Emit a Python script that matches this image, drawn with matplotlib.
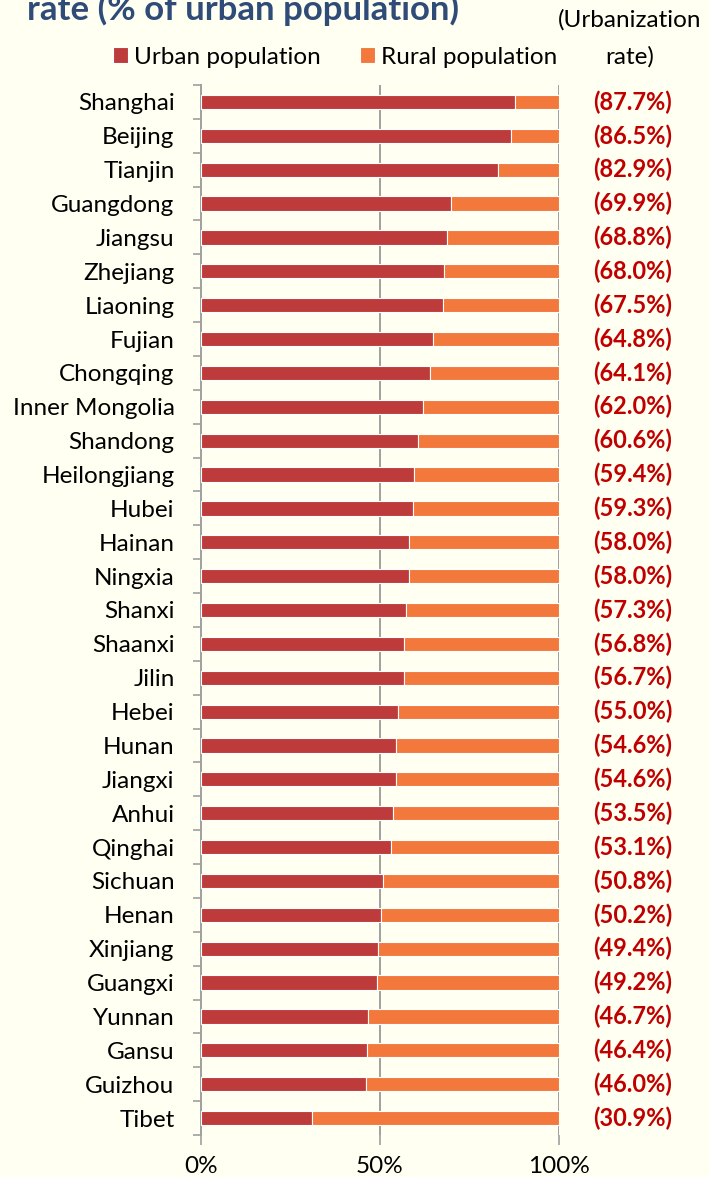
import matplotlib.pyplot as plt
import numpy as np

# provinces, top to bottom
provinces = ["Shanghai", "Beijing", "Tianjin", "Guangdong", "Jiangsu", "Zhejiang",
             "Liaoning", "Fujian", "Chongqing", "Inner Mongolia", "Shandong",
             "Heilongjiang", "Hubei", "Hainan", "Ningxia", "Shanxi", "Shaanxi",
             "Jilin", "Hebei", "Hunan", "Jiangxi", "Anhui", "Qinghai", "Sichuan",
             "Henan", "Xinjiang", "Guangxi", "Yunnan", "Gansu", "Guizhou", "Tibet"]

# urbanization rate, % of population
urban = [87.7, 86.5, 82.9, 69.9, 68.8, 68.0, 67.5, 64.8, 64.1, 62.0, 60.6,
         59.4, 59.3, 58.0, 58.0, 57.3, 56.8, 56.7, 55.0, 54.6, 54.6, 53.5,
         53.1, 50.8, 50.2, 49.4, 49.2, 46.7, 46.4, 46.0, 30.9]
rural = [100 - u for u in urban]

x_ticks = [0, 50, 100]
x_tick_labels = ["0%", "50%", "100%"]

bg = "#FFFFF2"
red = "#BE3B3B"
orange = "#F3783C"
label_red = "#C00000"
fs = 17.5

plt.rcParams['font.family'] = ['Lato', 'DejaVu Sans']

fig = plt.figure(figsize=(7.10, 11.77), dpi=100, facecolor=bg)
ax = fig.add_axes([201 / 710, 1 - 1135 / 1177, 358 / 710, 1050 / 1177])
ax.set_facecolor(bg)

y = np.arange(len(provinces))
ax.barh(y, urban, height=0.42, color=red, edgecolor="white", linewidth=0.8,
        label="Urban population", zorder=3)
ax.barh(y, rural, left=urban, height=0.42, color=orange, edgecolor="white",
        linewidth=0.8, label="Rural population", zorder=3)

ax.set_ylim(len(provinces) - 0.5, -0.5)
ax.set_xlim(0, 100)

# category labels (no ticks at the label), ticks at category boundaries
ax.set_yticks(y)
ax.set_yticklabels(provinces, fontsize=fs)
ax.tick_params(axis="y", length=0, pad=19)
ax.set_yticks(np.arange(len(provinces) + 1) - 0.5, minor=True)
ax.tick_params(axis="y", which="minor", length=6, color="#A0A0A0", width=1.2)

ax.set_xticks(x_ticks)
ax.set_xticklabels(x_tick_labels, fontsize=fs)
ax.tick_params(axis="x", length=7, color="#A0A0A0", width=1.2, pad=8)
ax.grid(axis="x", color="#A0A0A0", linewidth=1.4, zorder=1)

for s in ["top", "right", "bottom"]:
    ax.spines[s].set_visible(False)
ax.spines["left"].set_color("#A0A0A0")
ax.spines["left"].set_linewidth(1.4)

# urbanization rate labels on the right
for yi, u in zip(y, urban):
    ax.text(120.5, yi, "(%.1f%%)" % u, ha="center", va="center", fontsize=17,
            fontweight="bold", color=label_red)

# header for right column
fig.text(630 / 710, 1 - 20 / 1177, "(Urbanization", ha="center", va="center", fontsize=fs)
fig.text(630 / 710, 1 - 57 / 1177, "rate)", ha="center", va="center", fontsize=fs)

# title, cut by the top edge
fig.text(27 / 710, 1 - 20 / 1177, "rate (% of urban population)", ha="left", va="baseline",
         fontsize=25, fontweight="bold", color="#2F4B77")

fig.legend(loc="center", bbox_to_anchor=(335 / 710, 1 - 57 / 1177), ncol=2, frameon=False,
           fontsize=fs, handlelength=0.62, handleheight=0.62, columnspacing=1.6,
           handletextpad=0.25, borderpad=0, borderaxespad=0)

fig.savefig("out.png", dpi=100, facecolor=bg)
